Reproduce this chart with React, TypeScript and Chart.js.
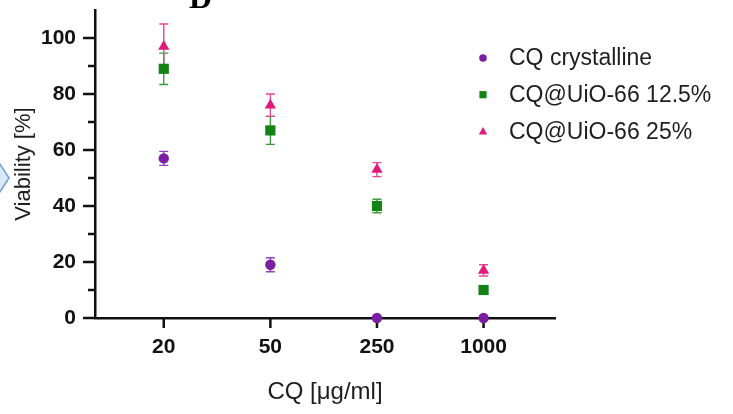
import React, { useEffect, useRef } from 'react';
import { Chart, registerables } from 'chart.js';

Chart.register(...registerables);

// ---- data ----
const categories = ['20', '50', '250', '1000'];
const seriesNames = ['CQ crystalline', 'CQ@UiO-66 12.5%', 'CQ@UiO-66 25%'];
const crystalline = [57, 19, 0, 0];
const crystallineErr = [2.5, 2.5, 0, 0];
const uio125 = [89, 67, 40, 10];
const uio125Err = [5.6, 5, 2.4, 0];
const uio25 = [97, 76, 53, 17];
const uio25Err = [8, 4, 2.5, 2];
const yMajorTicks = [0, 20, 40, 60, 80, 100];
const yMinorTicks = [10, 30, 50, 70, 90];
const panelLabel = 'D';
const yTitle = 'Viability [%]';
const xTitle = 'CQ [\u03BCg/ml]';

const purple = '#7B1FA2';
const green = '#148214';
const pink = '#E0197D';
const axisColor = '#111111';
const FONT = '"Liberation Sans", Arial, sans-serif';

function toPoints(vals: number[]) {
  return vals.map((v, i) => ({ x: i, y: v }));
}

const decorPlugin = {
  id: 'decor',
  beforeDraw(chart: any) {
    const { ctx } = chart;
    ctx.save();
    // partial diamond from neighbouring panel
    ctx.beginPath();
    ctx.moveTo(-2, 161);
    ctx.lineTo(9, 178);
    ctx.lineTo(-2, 195);
    ctx.closePath();
    ctx.fillStyle = '#dbe8f7';
    ctx.fill();
    ctx.strokeStyle = '#6d9fd6';
    ctx.lineWidth = 1.5;
    ctx.stroke();
    // panel letter
    ctx.fillStyle = '#000';
    ctx.font = 'bold 32px "Liberation Serif", "Times New Roman", serif';
    ctx.textBaseline = 'alphabetic';
    ctx.textAlign = 'left';
    ctx.fillText(panelLabel, 189, 8);
    ctx.restore();
  },
};

const ticksAndErrorsPlugin = {
  id: 'ticksAndErrors',
  beforeDatasetsDraw(chart: any) {
    const { ctx, chartArea, scales } = chart;
    const x = scales.x;
    const y = scales.y;
    ctx.save();
    ctx.strokeStyle = axisColor;
    ctx.lineWidth = 2.5;
    ctx.lineCap = 'butt';
    yMajorTicks.forEach((v) => {
      const py = y.getPixelForValue(v);
      ctx.beginPath();
      ctx.moveTo(chartArea.left - 12, py);
      ctx.lineTo(chartArea.left, py);
      ctx.stroke();
    });
    yMinorTicks.forEach((v) => {
      const py = y.getPixelForValue(v);
      ctx.beginPath();
      ctx.moveTo(chartArea.left - 7, py);
      ctx.lineTo(chartArea.left, py);
      ctx.stroke();
    });
    categories.forEach((_, i) => {
      const px = x.getPixelForValue(i);
      ctx.beginPath();
      ctx.moveTo(px, chartArea.bottom);
      ctx.lineTo(px, chartArea.bottom + 10);
      ctx.stroke();
    });
    // error bars
    chart.data.datasets.forEach((ds: any) => {
      const errs: number[] = ds.errors || [];
      ctx.strokeStyle = ds.errorColor;
      ctx.lineWidth = 1.4;
      ds.data.forEach((p: any, i: number) => {
        const e = errs[i];
        if (!e) return;
        const px = x.getPixelForValue(p.x);
        const top = y.getPixelForValue(p.y + e);
        const bot = y.getPixelForValue(p.y - e);
        ctx.beginPath();
        ctx.moveTo(px, top);
        ctx.lineTo(px, bot);
        ctx.moveTo(px - 4.5, top);
        ctx.lineTo(px + 4.5, top);
        ctx.moveTo(px - 4.5, bot);
        ctx.lineTo(px + 4.5, bot);
        ctx.stroke();
      });
    });
    ctx.restore();
  },
};

const legendPlugin = {
  id: 'customLegend',
  afterDraw(chart: any) {
    const { ctx } = chart;
    const markerX = 483;
    const textX = 509;
    const firstY = 58;
    const step = 36.7;
    ctx.save();
    chart.data.datasets.forEach((ds: any, i: number) => {
      const cy = firstY + i * step;
      ctx.fillStyle = ds.backgroundColor;
      ctx.beginPath();
      if (ds.pointStyle === 'circle') {
        ctx.arc(markerX, cy, 3.8, 0, Math.PI * 2);
      } else if (ds.pointStyle === 'rect') {
        ctx.rect(markerX - 3.6, cy - 3.6, 7.2, 7.2);
      } else {
        ctx.moveTo(markerX, cy - 4.5);
        ctx.lineTo(markerX + 4.2, cy + 3);
        ctx.lineTo(markerX - 4.2, cy + 3);
        ctx.closePath();
      }
      ctx.fill();
      ctx.fillStyle = '#1e1e1e';
      ctx.font = `23px ${FONT}`;
      ctx.textAlign = 'left';
      ctx.textBaseline = 'middle';
      ctx.fillText(ds.label, textX, cy + 1);
    });
    ctx.restore();
  },
};

export default function App() {
  const canvasRef = useRef<HTMLCanvasElement | null>(null);

  useEffect(() => {
    const canvas = canvasRef.current;
    if (!canvas) return;
    const chart = new Chart(canvas, {
      type: 'scatter',
      data: {
        datasets: [
          {
            label: seriesNames[0],
            data: toPoints(crystalline),
            errors: crystallineErr,
            errorColor: '#9440b8',
            pointStyle: 'circle',
            pointRadius: 5.2,
            backgroundColor: purple,
            borderColor: purple,
            borderWidth: 0,
            clip: false,
          } as any,
          {
            label: seriesNames[1],
            data: toPoints(uio125),
            errors: uio125Err,
            errorColor: '#3d9a3d',
            pointStyle: 'rect',
            pointRadius: 7.2,
            backgroundColor: green,
            borderColor: green,
            borderWidth: 0,
            clip: false,
          } as any,
          {
            label: seriesNames[2],
            data: toPoints(uio25),
            errors: uio25Err,
            errorColor: '#e44a93',
            pointStyle: 'triangle',
            pointRadius: 6.5,
            backgroundColor: pink,
            borderColor: pink,
            borderWidth: 0,
            clip: false,
          } as any,
        ],
      },
      options: {
        responsive: false,
        animation: false,
        events: [],
        layout: { padding: { top: 10, right: 178, bottom: 0, left: 0 } },
        plugins: {
          legend: { display: false },
          tooltip: { enabled: false },
          title: { display: false },
        },
        scales: {
          x: {
            type: 'linear',
            min: -0.645,
            max: 3.67,
            afterBuildTicks: (s: any) => {
              s.ticks = categories.map((_, i) => ({ value: i }));
            },
            afterFit: (s: any) => {
              s.height = 96;
              s.paddingLeft = 0;
              s.paddingRight = 0;
            },
            ticks: {
              callback: (v: any) => categories[v as number] ?? '',
              font: { family: FONT, size: 21, weight: 'bold' },
              color: axisColor,
              padding: 17,
              autoSkip: false,
              maxRotation: 0,
            },
            grid: { display: false, drawTicks: false },
            border: { display: true, color: axisColor, width: 2.5 },
            title: {
              display: true,
              text: xTitle,
              font: { family: FONT, size: 24 },
              color: '#1e1e1e',
              padding: { top: 0, bottom: 7 },
            },
          },
          y: {
            type: 'linear',
            min: 0,
            max: 110,
            afterBuildTicks: (s: any) => {
              s.ticks = yMajorTicks.map((v) => ({ value: v }));
            },
            afterFit: (s: any) => {
              s.width = 95;
              s.paddingTop = 0;
              s.paddingBottom = 0;
            },
            ticks: {
              font: { family: FONT, size: 21, weight: 'bold' },
              color: axisColor,
              padding: 19,
            },
            grid: { display: false, drawTicks: false },
            border: { display: true, color: axisColor, width: 2.5 },
            title: {
              display: true,
              text: yTitle,
              font: { family: FONT, size: 22 },
              color: '#1e1e1e',
              padding: { top: 11, bottom: 0 },
            },
          },
        },
      } as any,
      plugins: [decorPlugin, ticksAndErrorsPlugin, legendPlugin],
    });
    return () => chart.destroy();
  }, []);

  return (
    <div style={{ position: 'fixed', left: 0, top: 0, width: 733, height: 414, background: '#fff' }}>
      <canvas ref={canvasRef} width={733} height={414} style={{ display: 'block', width: 733, height: 414 }} />
    </div>
  );
}
